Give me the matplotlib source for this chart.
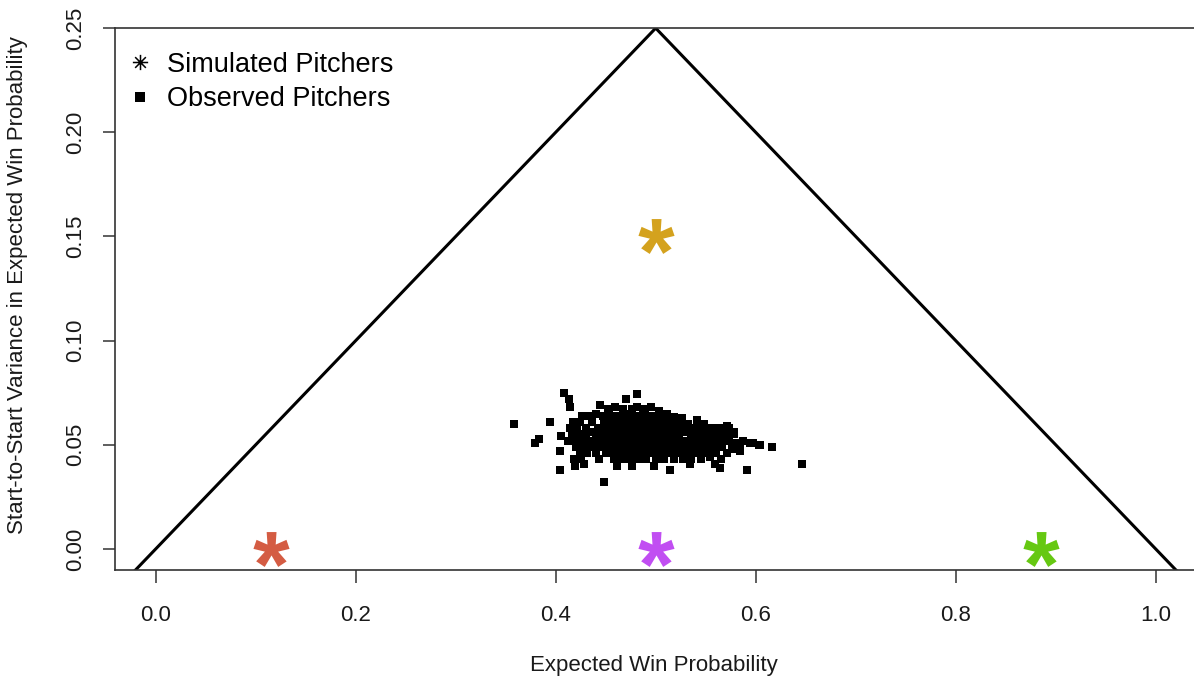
import numpy as np
import matplotlib
matplotlib.use("Agg")
import matplotlib.pyplot as plt
from matplotlib.path import Path
from matplotlib.textpath import TextPath
from matplotlib.font_manager import FontProperties
from matplotlib.lines import Line2D

plt.rcParams['font.family'] = ['Liberation Sans', 'DejaVu Sans']

# simulated pitchers: expected win prob and start-to-start variance
sim_p = [0.115, 0.5, 0.5, 0.885]
sim_var = [0.0, 0.0, 0.15, 0.0]
sim_colors = ['#D45C43', '#C14EF2', '#D4A21E', '#66C812']

# observed pitchers (one point per pitcher)
obs_x = [
    0.444, 0.452, 0.459, 0.467, 0.476, 0.481, 0.487, 0.495, 0.503, 0.511,
    0.426, 0.433, 0.440, 0.447, 0.453, 0.459, 0.465, 0.471, 0.477, 0.483, 0.489, 0.495, 0.501, 0.507, 0.513, 0.519, 0.526,
    0.417, 0.424, 0.436, 0.448, 0.454, 0.460, 0.466, 0.472, 0.478, 0.484, 0.490, 0.496, 0.502, 0.508, 0.514, 0.520, 0.526, 0.532, 0.541, 0.548,
    0.414, 0.421, 0.430, 0.442, 0.450, 0.456, 0.462, 0.468, 0.474, 0.480, 0.486, 0.492, 0.498, 0.504, 0.510, 0.516, 0.522, 0.528, 0.534, 0.540, 0.546, 0.553, 0.560, 0.567, 0.573,
    0.416, 0.423, 0.430, 0.437, 0.444, 0.451, 0.457, 0.463, 0.469, 0.475, 0.481, 0.487, 0.493, 0.499, 0.505, 0.511, 0.517, 0.523, 0.529, 0.535, 0.541, 0.547, 0.553, 0.559, 0.565, 0.571, 0.578,
    0.405, 0.412, 0.419, 0.426, 0.433, 0.440, 0.447, 0.453, 0.459, 0.465, 0.471, 0.477, 0.483, 0.489, 0.495, 0.501, 0.507, 0.513, 0.519, 0.525, 0.531, 0.537, 0.543, 0.549, 0.555, 0.561, 0.567, 0.573, 0.580, 0.587, 0.594,
    0.420, 0.428, 0.436, 0.444, 0.451, 0.457, 0.463, 0.469, 0.475, 0.481, 0.487, 0.493, 0.499, 0.505, 0.511, 0.517, 0.523, 0.529, 0.535, 0.541, 0.547, 0.553, 0.559, 0.566, 0.576, 0.584, 0.597, 0.603,
    0.424, 0.431, 0.440, 0.450, 0.456, 0.462, 0.468, 0.474, 0.480, 0.486, 0.492, 0.498, 0.504, 0.510, 0.516, 0.522, 0.528, 0.534, 0.540, 0.546, 0.552, 0.560, 0.571, 0.584,
    0.418, 0.425, 0.443, 0.458, 0.466, 0.474, 0.482, 0.490, 0.500, 0.508, 0.518, 0.527, 0.535, 0.545, 0.554, 0.565,
    0.358, 0.408, 0.413, 0.414, 0.394, 0.383, 0.379, 0.404, 0.404, 0.448, 0.461, 0.476, 0.498, 0.514,
    0.534, 0.554, 0.564, 0.559, 0.591, 0.616, 0.646, 0.481, 0.470, 0.526, 0.541, 0.518, 0.571, 0.578,
    0.604, 0.584, 0.419, 0.428,
]
obs_y = [
    0.069, 0.067, 0.068, 0.067, 0.067, 0.068, 0.067, 0.068, 0.066, 0.065,
    0.064, 0.064, 0.065, 0.064, 0.065, 0.064, 0.064, 0.065, 0.064, 0.064, 0.065, 0.064, 0.064, 0.064, 0.063, 0.063, 0.063,
    0.061, 0.061, 0.061, 0.061, 0.061, 0.061, 0.062, 0.061, 0.061, 0.062, 0.061, 0.061, 0.062, 0.061, 0.061, 0.061, 0.061, 0.060, 0.061, 0.060,
    0.058, 0.058, 0.058, 0.058, 0.058, 0.058, 0.059, 0.058, 0.058, 0.059, 0.058, 0.058, 0.059, 0.058, 0.058, 0.059, 0.058, 0.058, 0.058, 0.058, 0.058, 0.058, 0.058, 0.058, 0.058,
    0.055, 0.055, 0.055, 0.056, 0.055, 0.055, 0.056, 0.055, 0.055, 0.056, 0.055, 0.055, 0.056, 0.055, 0.055, 0.056, 0.055, 0.055, 0.056, 0.055, 0.055, 0.055, 0.055, 0.055, 0.055, 0.055, 0.055,
    0.054, 0.052, 0.052, 0.052, 0.052, 0.053, 0.052, 0.052, 0.053, 0.052, 0.052, 0.053, 0.052, 0.052, 0.053, 0.052, 0.052, 0.053, 0.052, 0.052, 0.052, 0.052, 0.052, 0.052, 0.052, 0.052, 0.052, 0.052, 0.051, 0.052, 0.051,
    0.049, 0.049, 0.049, 0.049, 0.049, 0.049, 0.050, 0.049, 0.049, 0.050, 0.049, 0.049, 0.049, 0.049, 0.049, 0.050, 0.049, 0.049, 0.049, 0.049, 0.049, 0.049, 0.049, 0.049, 0.048, 0.049, 0.051, 0.050,
    0.046, 0.046, 0.046, 0.046, 0.046, 0.046, 0.046, 0.046, 0.046, 0.046, 0.046, 0.046, 0.046, 0.046, 0.046, 0.046, 0.046, 0.046, 0.046, 0.046, 0.046, 0.046, 0.046, 0.047,
    0.043, 0.043, 0.043, 0.043, 0.043, 0.043, 0.043, 0.043, 0.043, 0.043, 0.043, 0.043, 0.043, 0.043, 0.044, 0.043,
    0.060, 0.075, 0.072, 0.068, 0.061, 0.053, 0.051, 0.047, 0.038, 0.032, 0.040, 0.040, 0.040, 0.038,
    0.041, 0.045, 0.039, 0.041, 0.038, 0.049, 0.041, 0.0745, 0.072, 0.062, 0.062, 0.0635, 0.059, 0.056,
    0.050, 0.0475, 0.040, 0.041,
]

# boundary lines meeting at (0.5, 0.25)
bound_x = np.array([-0.05, 0.5, 1.05])
bound_y = 0.5 * np.minimum(bound_x, 1 - bound_x)

x_ticks = [0.0, 0.2, 0.4, 0.6, 0.8, 1.0]
y_ticks = [0.00, 0.05, 0.10, 0.15, 0.20, 0.25]


def centered_glyph(ch, weight='bold'):
    tp = TextPath((0, 0), ch, size=1,
                  prop=FontProperties(family='Liberation Sans', weight=weight))
    ext = tp.get_extents()
    verts = tp.vertices - [(ext.x0 + ext.x1) / 2, (ext.y0 + ext.y1) / 2]
    # closepoly vertices are ignored when drawing but count in marker scaling
    verts[tp.codes == Path.CLOSEPOLY] = 0
    return Path(verts, tp.codes)


star = centered_glyph('*')
# line asterisk (plus overlaid with cross) for the legend
asterisk = Path([(-1, 0), (1, 0), (0, -1), (0, 1),
                 (-0.7, -0.7), (0.7, 0.7), (-0.7, 0.7), (0.7, -0.7)],
                [Path.MOVETO, Path.LINETO] * 4)

fig = plt.figure(figsize=(11.94, 6.8), dpi=100)
ax = fig.add_axes([115 / 1194, 110 / 680, 1 - 115 / 1194, (570 - 27.5) / 680])

ax.plot(bound_x, bound_y, color='black', lw=2.2, solid_joinstyle='miter', zorder=2)
ax.scatter(obs_x, obs_y, marker='s', s=33, color='black', linewidths=0, zorder=3)
for px, pv, c in zip(sim_p, sim_var, sim_colors):
    ax.scatter([px], [pv], marker=star, s=26 ** 2, color=c, linewidths=0, zorder=4)

ax.set_xlim(-0.0407, 1.0383)
ax.set_ylim(-0.0101, 0.2503)

ax.spines['right'].set_visible(False)
for side in ['left', 'bottom', 'top']:
    ax.spines[side].set_linewidth(1.2)
    ax.spines[side].set_color('#333333')

ax.set_xticks(x_ticks)
ax.set_xticklabels([f"{v:.1f}" for v in x_ticks])
ax.set_yticks(y_ticks)
ax.set_yticklabels([f"{v:.2f}" for v in y_ticks], rotation=90, va='center')
ax.tick_params(axis='both', length=9, width=1.1, color='#333333',
               labelsize=16, labelcolor='#1a1a1a')
ax.tick_params(axis='x', pad=16)
ax.tick_params(axis='y', pad=12)

fig.text(654 / 1194, 1 - 665 / 680, 'Expected Win Probability',
         ha='center', va='center', fontsize=16, color='#1a1a1a')
fig.text(18 / 1194, 1 - 285 / 680, 'Start-to-Start Variance in Expected Win Probability',
         ha='center', va='center', rotation=90, fontsize=16, color='#1a1a1a')

handles = [
    Line2D([], [], ls='none', marker=asterisk, ms=11, mew=1.1, color='black', fillstyle='none'),
    Line2D([], [], ls='none', marker='s', ms=7.5, mew=0, color='black'),
]
ax.legend(handles, ['Simulated Pitchers', 'Observed Pitchers'], loc='upper left',
          bbox_to_anchor=(-0.007, 0.99), frameon=False, fontsize=19.5,
          handlelength=1.0, handletextpad=0.5, labelspacing=0.3, borderaxespad=0.3)

fig.savefig('out.png', dpi=100)
